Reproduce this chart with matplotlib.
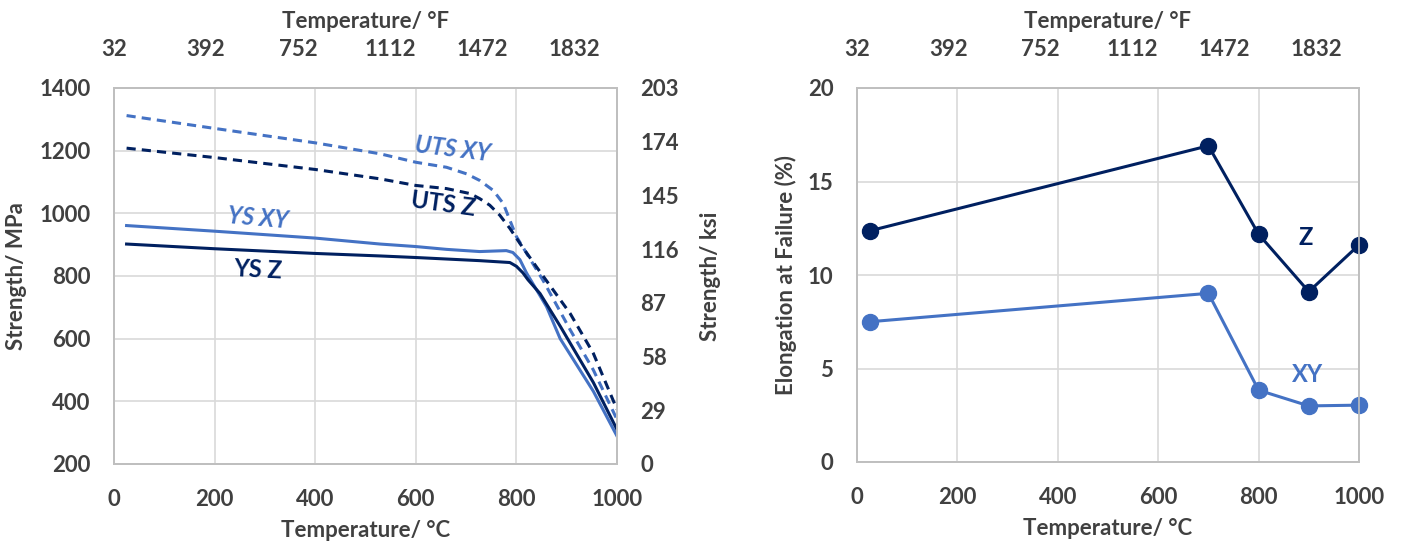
import matplotlib
matplotlib.use("Agg")
import matplotlib.pyplot as plt

plt.rcParams['font.family'] = ['Lato', 'DejaVu Sans']
plt.rcParams['font.weight'] = 'bold'

# colours
DARK = '#002060'
LIGHT = '#4472C4'
TXT = '#404040'
GRID = '#d9d9d9'

# strength vs temperature
t_uts_xy = [25, 200, 400, 529, 600, 661, 701, 727, 754, 774, 787, 800, 820, 853, 907, 953, 1000]
uts_xy = [1312, 1271, 1225, 1190, 1163, 1147, 1126, 1105, 1073, 1031, 978, 926, 873, 786, 628, 500, 342]

t_uts_z = [25, 200, 400, 529, 600, 661, 708, 727, 747, 767, 787, 807, 840, 907, 953, 1000]
uts_z = [1208, 1178, 1140, 1110, 1089, 1079, 1063, 1047, 1026, 994, 952, 904, 829, 680, 553, 374]

t_ys_xy = [25, 200, 400, 529, 600, 661, 727, 780, 793, 807, 820, 860, 887, 953, 1000]
ys_xy = [961, 943, 921, 902, 894, 885, 878, 881, 875, 852, 810, 702, 600, 432, 289]

t_ys_z = [25, 200, 400, 529, 600, 727, 787, 800, 813, 823, 847, 887, 953, 1000]
ys_z = [902, 887, 872, 864, 859, 849, 843, 831, 810, 788, 744, 640, 460, 310]

# elongation at failure
t_el = [25, 700, 800, 900, 1000]
el_z = [12.36, 16.91, 12.18, 9.11, 11.61]
el_xy = [7.5, 9.02, 3.84, 3.0, 3.04]

f_ticks = [32, 392, 752, 1112, 1472, 1832]
ksi_ticks = [0, 29, 58, 87, 116, 145, 174, 203]

W, H = 1402, 546
fig = plt.figure(figsize=(W / 100, H / 100), dpi=100)


def style(ax):
    for s in ax.spines.values():
        s.set_color('#bfbfbf')
        s.set_linewidth(1.2)
    ax.tick_params(length=0, labelsize=16, colors=TXT)


def top_axis(ax):
    axt = ax.twiny()
    axt.set_xlim(32, 2000)
    axt.set_xticks(f_ticks)
    axt.set_xticklabels([str(v) for v in f_ticks])
    style(axt)
    axt.tick_params(axis='x', pad=20)
    axt.set_xlabel('Temperature/ °F', fontsize=16, color=TXT, fontweight='bold')
    axt.xaxis.set_label_coords(0.5, 1.16)
    return axt


# ---- left: strength ----
ax1 = fig.add_axes([114 / W, 82 / H, 503 / W, 376 / H])
ax1.set_xlim(0, 1000)
ax1.set_ylim(200, 1400)
ax1.set_xticks(range(0, 1001, 200))
ax1.set_yticks(range(200, 1401, 200))
ax1.grid(True, color=GRID, linewidth=1.2)
ax1.set_axisbelow(True)
style(ax1)
ax1.tick_params(axis='y', pad=17)
ax1.tick_params(axis='x', pad=18)

ax1.plot(t_uts_xy, uts_xy, color=LIGHT, lw=2.2, dashes=(3, 2))
ax1.plot(t_uts_z, uts_z, color=DARK, lw=2.2, dashes=(3, 2))
ax1.plot(t_ys_xy, ys_xy, color=LIGHT, lw=2.2)
ax1.plot(t_ys_z, ys_z, color=DARK, lw=2.2)

ax1.text(674, 1205, 'UTS XY', color=LIGHT, fontsize=17, rotation=-7, style='italic',
         ha='center', va='center')
ax1.text(654, 1030, 'UTS Z', color=DARK, fontsize=17, rotation=-8, ha='center', va='center')
ax1.text(286, 985, 'YS XY', color=LIGHT, fontsize=17, rotation=-5, style='italic',
         ha='center', va='center')
ax1.text(286, 819, 'YS Z', color=DARK, fontsize=17, rotation=-3, ha='center', va='center')

ax1.set_xlabel('Temperature/ °C', fontsize=16, color=TXT, fontweight='bold')
ax1.xaxis.set_label_coords(0.5, -0.15)
ax1.set_ylabel('Strength/ MPa', fontsize=16, color=TXT, fontweight='bold')
ax1.yaxis.set_label_coords(-0.173, 0.5)

ax1r = ax1.twinx()
ax1r.set_ylim(0, 203)
ax1r.set_yticks(ksi_ticks)
style(ax1r)
ax1r.tick_params(axis='y', pad=17)
ax1r.set_ylabel('Strength/ ksi', fontsize=16, color=TXT, fontweight='bold')
ax1r.yaxis.set_label_coords(1.165, 0.5)

top_axis(ax1)

# ---- right: elongation ----
ax2 = fig.add_axes([857 / W, 84 / H, 502 / W, 374 / H])
ax2.set_xlim(0, 1000)
ax2.set_ylim(0, 20)
ax2.set_xticks(range(0, 1001, 200))
ax2.set_yticks(range(0, 21, 5))
ax2.grid(True, color=GRID, linewidth=1.2)
ax2.set_axisbelow(True)
style(ax2)
ax2.tick_params(axis='y', pad=17)
ax2.tick_params(axis='x', pad=18)

ax2.plot(t_el, el_z, color=DARK, lw=2.2, marker='o', ms=11.5, clip_on=False, zorder=3)
ax2.plot(t_el, el_xy, color=LIGHT, lw=2.2, marker='o', ms=11.5, clip_on=False, zorder=3)
ax2.text(894, 12.0, 'Z', color=DARK, fontsize=17, ha='center', va='center')
ax2.text(898, 4.7, 'XY', color=LIGHT, fontsize=17, ha='center', va='center')

ax2.set_xlabel('Temperature/ °C', fontsize=16, color=TXT, fontweight='bold')
ax2.xaxis.set_label_coords(0.5, -0.15)
ax2.set_ylabel('Elongation at Failure (%)', fontsize=16, color=TXT, fontweight='bold')
ax2.yaxis.set_label_coords(-0.12, 0.5)

top_axis(ax2)

fig.savefig('out.png', dpi=100)
